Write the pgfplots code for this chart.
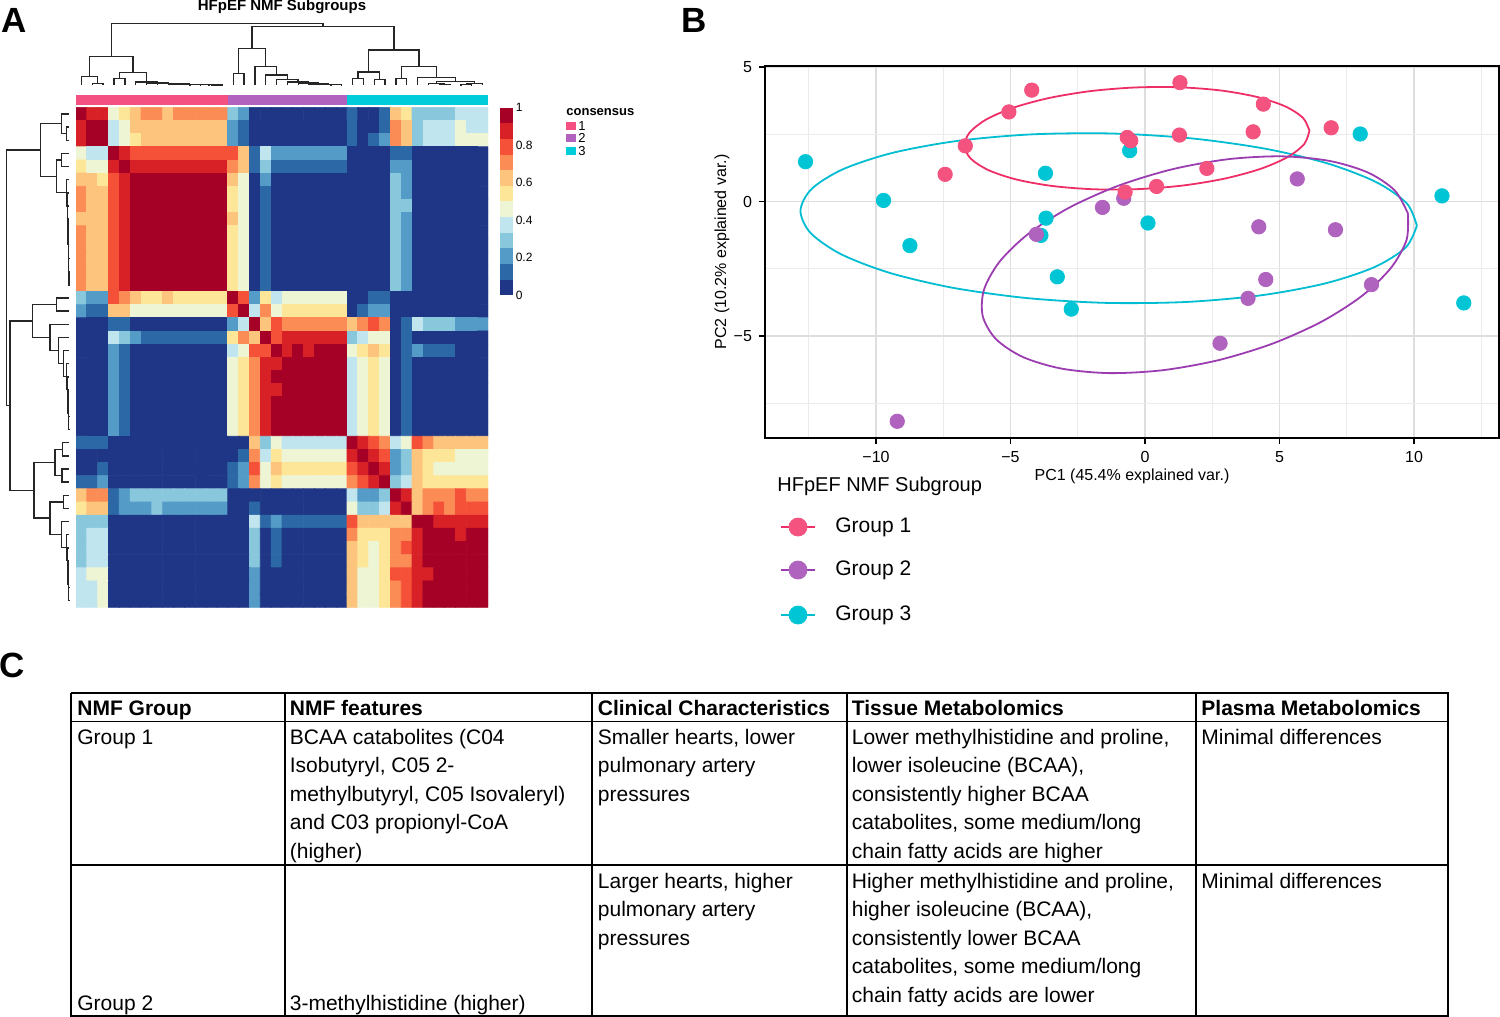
\documentclass[border=0pt]{standalone}
\usepackage{fontspec}
\setmainfont{Liberation Sans}
\usepackage{pgfplots}
\pgfplotsset{compat=1.18}
\definecolor{hm0}{RGB}{31,54,134}
\definecolor{hm1}{RGB}{44,104,166}
\definecolor{hm2}{RGB}{84,155,199}
\definecolor{hm3}{RGB}{137,199,221}
\definecolor{hm4}{RGB}{193,229,238}
\definecolor{hm5}{RGB}{238,245,213}
\definecolor{hm6}{RGB}{254,230,152}
\definecolor{hm7}{RGB}{253,196,125}
\definecolor{hm8}{RGB}{252,140,85}
\definecolor{hm9}{RGB}{245,81,56}
\definecolor{hm10}{RGB}{215,33,38}
\definecolor{hm11}{RGB}{165,0,38}
\definecolor{annA}{RGB}{245,80,130}
\definecolor{annB}{RGB}{176,98,190}
\definecolor{annC}{RGB}{0,204,218}
\definecolor{gApt}{RGB}{244,82,127}
\definecolor{gBpt}{RGB}{176,99,190}
\definecolor{gCpt}{RGB}{0,197,213}
\definecolor{gAln}{RGB}{238,47,103}
\definecolor{gBln}{RGB}{155,61,176}
\definecolor{gCln}{RGB}{0,189,210}
\newcommand{\tabfont}{\fontsize{10.5}{12}\selectfont}
\newcommand{\tl}[3]{\node[anchor=base west, inner sep=0pt, font=\tabfont] at (axis cs:#1,#2) {#3};}
\newcommand{\thd}[3]{\node[anchor=base west, inner sep=0pt, font=\tabfont\bfseries] at (axis cs:#1,#2) {#3};}
\begin{document}
\begin{tikzpicture}
\useasboundingbox (0pt,0pt) rectangle (750pt,-508.5pt);
% ---------------- pixel frame axis (dendrograms, annotations, table)
\begin{axis}[at={(0pt,0pt)}, anchor=north west, width=750pt, height=508.5pt, scale only axis,
  xmin=0, xmax=1500, ymin=0, ymax=1017, y dir=reverse, hide axis, clip=false]
% annotation bar
\addplot[fill=annA, draw=none, mark=none] coordinates {(76,95)(227.8,95)(227.8,104.5)(76,104.5)};
\addplot[fill=annB, draw=none, mark=none] coordinates {(227.8,95)(347,95)(347,104.5)(227.8,104.5)};
\addplot[fill=annC, draw=none, mark=none] coordinates {(347,95)(488,95)(488,104.5)(347,104.5)};
% column dendrogram
\addplot[black!85, line width=0.7pt, mark=none, unbounded coords=jump] coordinates {
(92.3,85)(92.3,83.3)(103.1,83.3)(103.1,85) (nan,nan)
(81.4,85)(81.4,76.7)(97.7,76.7)(97.7,83.3) (nan,nan)
(113.9,85)(113.9,78.3)(124.8,78.3)(124.8,85) (nan,nan)
(211.5,85)(211.5,84.8)(222.4,84.8)(222.4,85) (nan,nan)
(200.7,85)(200.7,84.7)(216.95,84.7)(216.95,84.8) (nan,nan)
(189.8,85)(189.8,84.6)(208.8,84.6)(208.8,84.7) (nan,nan)
(179.0,85)(179.0,84.4)(199.3,84.4)(199.3,84.6) (nan,nan)
(168.2,85)(168.2,84.0)(189.2,84.0)(189.2,84.4) (nan,nan)
(157.3,85)(157.3,83.6)(178.7,83.6)(178.7,84.0) (nan,nan)
(146.5,85)(146.5,83.0)(168.0,83.0)(168.0,83.6) (nan,nan)
(135.6,85)(135.6,82.0)(157.25,82.0)(157.25,83.0) (nan,nan)
(119.35,78.3)(119.35,72.3)(146.4,72.3)(146.4,82.0) (nan,nan)
(89.55,76.7)(89.55,56.7)(132.9,56.7)(132.9,72.3) (nan,nan)
(233.2,85)(233.2,73.3)(244.0,73.3)(244.0,85) (nan,nan)
(330.8,85)(330.8,84.6)(341.6,84.6)(341.6,85) (nan,nan)
(319.9,85)(319.9,84.3)(336.2,84.3)(336.2,84.6) (nan,nan)
(309.1,85)(309.1,83.8)(328.05,83.8)(328.05,84.3) (nan,nan)
(298.3,85)(298.3,83.0)(318.6,83.0)(318.6,83.8) (nan,nan)
(287.4,85)(287.4,82.0)(308.4,82.0)(308.4,83.0) (nan,nan)
(276.6,85)(276.6,79.3)(297.9,79.3)(297.9,82.0) (nan,nan)
(265.7,85)(265.7,75.0)(287.3,75.0)(287.3,79.3) (nan,nan)
(254.9,85)(254.9,66.7)(276.5,66.7)(276.5,75.0) (nan,nan)
(238.6,73.3)(238.6,48.3)(265.7,48.3)(265.7,66.7) (nan,nan)
(352.5,85)(352.5,78.7)(363.3,78.7)(363.3,85) (nan,nan)
(374.2,85)(374.2,79.3)(385.0,79.3)(385.0,85) (nan,nan)
(357.9,78.7)(357.9,72.0)(379.6,72.0)(379.6,79.3) (nan,nan)
(395.8,85)(395.8,78.3)(406.7,78.3)(406.7,85) (nan,nan)
(439.2,85)(439.2,84.3)(450.1,84.3)(450.1,85) (nan,nan)
(428.4,85)(428.4,83.3)(444.65,83.3)(444.65,84.3) (nan,nan)
(460.9,85)(460.9,84.5)(471.7,84.5)(471.7,85) (nan,nan)
(466.3,84.5)(466.3,83.7)(482.6,83.7)(482.6,85) (nan,nan)
(436.5,83.3)(436.5,81.5)(474.5,81.5)(474.5,83.7) (nan,nan)
(417.5,85)(417.5,77.7)(455.5,77.7)(455.5,81.5) (nan,nan)
(401.25,78.3)(401.25,66.7)(436.5,66.7)(436.5,77.7) (nan,nan)
(368.75,72.0)(368.75,50.0)(418.9,50.0)(418.9,66.7) (nan,nan)
(252.15,48.3)(252.15,26.7)(393.8,26.7)(393.8,50.0) (nan,nan)
(111.2,56.7)(111.2,23.3)(323.0,23.3)(323.0,26.7)
};
% row dendrogram
\addplot[black!85, line width=0.7pt, mark=none, unbounded coords=jump] coordinates {
(69,127.0)(66.7,127.0)(66.7,140.2)(69,140.2) (nan,nan)
(69,113.9)(61.7,113.9)(61.7,133.6)(66.7,133.6) (nan,nan)
(69,153.3)(61.7,153.3)(61.7,166.5)(69,166.5) (nan,nan)
(69,271.7)(68.8,271.7)(68.8,284.8)(69,284.8) (nan,nan)
(69,258.5)(68.6,258.5)(68.6,278.25)(68.8,278.25) (nan,nan)
(69,245.4)(68.4,245.4)(68.4,268.4)(68.6,268.4) (nan,nan)
(69,232.2)(68.2,232.2)(68.2,256.9)(68.4,256.9) (nan,nan)
(69,219.1)(68.0,219.1)(68.0,244.55)(68.2,244.55) (nan,nan)
(69,205.9)(67.7,205.9)(67.7,231.8)(68.0,231.8) (nan,nan)
(69,192.8)(67.3,192.8)(67.3,218.85)(67.7,218.85) (nan,nan)
(69,179.6)(66.7,179.6)(66.7,205.8)(67.3,205.8) (nan,nan)
(61.7,159.9)(56.7,159.9)(56.7,192.7)(66.7,192.7) (nan,nan)
(61.7,123.75)(40.7,123.75)(40.7,176.3)(56.7,176.3) (nan,nan)
(69,298.0)(56.7,298.0)(56.7,311.1)(69,311.1) (nan,nan)
(69,416.3)(68.6,416.3)(68.6,429.5)(69,429.5) (nan,nan)
(69,403.2)(68.3,403.2)(68.3,422.9)(68.6,422.9) (nan,nan)
(69,390.0)(68.0,390.0)(68.0,413.05)(68.3,413.05) (nan,nan)
(69,376.9)(67.5,376.9)(67.5,401.5)(68.0,401.5) (nan,nan)
(69,363.7)(66.7,363.7)(66.7,389.2)(67.5,389.2) (nan,nan)
(69,350.6)(63.3,350.6)(63.3,376.45)(66.7,376.45) (nan,nan)
(69,337.4)(58.3,337.4)(58.3,363.5)(63.3,363.5) (nan,nan)
(69,324.3)(50.0,324.3)(50.0,350.45)(58.3,350.45) (nan,nan)
(56.7,304.55)(32.3,304.55)(32.3,337.4)(50.0,337.4) (nan,nan)
(69,442.6)(62.5,442.6)(62.5,455.8)(69,455.8) (nan,nan)
(69,468.9)(62.0,468.9)(62.0,482.1)(69,482.1) (nan,nan)
(62.5,449.2)(55.0,449.2)(55.0,475.5)(62.0,475.5) (nan,nan)
(69,495.2)(63.3,495.2)(63.3,508.4)(69,508.4) (nan,nan)
(69,587.3)(68.6,587.3)(68.6,600.4)(69,600.4) (nan,nan)
(69,574.1)(68.2,574.1)(68.2,593.85)(68.6,593.85) (nan,nan)
(69,561.0)(67.8,561.0)(67.8,583.98)(68.2,583.98) (nan,nan)
(69,547.8)(67.3,547.8)(67.3,572.5)(67.8,572.5) (nan,nan)
(69,534.7)(66.5,534.7)(66.5,560.15)(67.3,560.15) (nan,nan)
(69,521.5)(61.7,521.5)(61.7,547.4)(66.5,547.4) (nan,nan)
(63.3,501.8)(50.0,501.8)(50.0,534.45)(61.7,534.45) (nan,nan)
(55.0,462.35)(34.0,462.35)(34.0,518.1)(50.0,518.1) (nan,nan)
(32.3,321.0)(10.0,321.0)(10.0,490.2)(34.0,490.2) (nan,nan)
(40.7,150.0)(6.7,150.0)(6.7,405.6)(10.0,405.6)
};
% consensus legend
\addplot[fill=annA, draw=none, mark=none] coordinates {(566,122)(576,122)(576,130.3)(566,130.3)};
\addplot[fill=annB, draw=none, mark=none] coordinates {(566,134.3)(576,134.3)(576,142.3)(566,142.3)};
\addplot[fill=annC, draw=none, mark=none] coordinates {(566,146.7)(576,146.7)(576,155)(566,155)};
\node[anchor=west, inner sep=0pt, font=\fontsize{6.5}{7}\selectfont\bfseries] at (axis cs:566,112.5) {consensus};
\node[anchor=west, inner sep=0pt, font=\fontsize{6.5}{7}\selectfont] at (axis cs:578,126.3) {1};
\node[anchor=west, inner sep=0pt, font=\fontsize{6.5}{7}\selectfont] at (axis cs:578,138.3) {2};
\node[anchor=west, inner sep=0pt, font=\fontsize{6.5}{7}\selectfont] at (axis cs:578,151) {3};
% titles and panel letters
\node[font=\fontsize{7.5}{8}\selectfont\bfseries] at (axis cs:282,6.5) {HFpEF NMF Subgroups};
\node[font=\fontsize{17.5}{20}\selectfont\bfseries] at (axis cs:14,20.5) {A};
\node[font=\fontsize{17.5}{20}\selectfont\bfseries] at (axis cs:694,20.5) {B};
\node[font=\fontsize{17.5}{20}\selectfont\bfseries] at (axis cs:12,665.5) {C};
% scatter axis labels
\node[font=\fontsize{8}{9}\selectfont] at (axis cs:1132,476) {PC1 (45.4\% explained var.)};
\node[font=\fontsize{8}{9}\selectfont, rotate=90] at (axis cs:722,252) {PC2 (10.2\% explained var.)};
% scatter legend
\node[anchor=west, inner sep=0pt, font=\fontsize{10}{12}\selectfont] at (axis cs:777,486) {HFpEF NMF Subgroup};
\addplot[gAln, line width=1pt, mark=none] coordinates {(781,527)(815,527)};
\addplot[gBln, line width=1pt, mark=none] coordinates {(781,570)(815,570)};
\addplot[gCln, line width=1pt, mark=none] coordinates {(781,615)(815,615)};
\addplot[only marks, mark=*, mark size=4.5pt, mark options={fill=gApt, draw=gApt}] coordinates {(798,527)};
\addplot[only marks, mark=*, mark size=4.5pt, mark options={fill=gBpt, draw=gBpt}] coordinates {(798,570)};
\addplot[only marks, mark=*, mark size=4.5pt, mark options={fill=gCpt, draw=gCpt}] coordinates {(798,615)};
\node[anchor=west, inner sep=0pt, font=\fontsize{10.5}{12}\selectfont] at (axis cs:835,527) {Group 1};
\node[anchor=west, inner sep=0pt, font=\fontsize{10.5}{12}\selectfont] at (axis cs:835,570) {Group 2};
\node[anchor=west, inner sep=0pt, font=\fontsize{10.5}{12}\selectfont] at (axis cs:835,615) {Group 3};
% table
\addplot[black, line width=0.9pt, mark=none] coordinates {(71,693)(1448,693)(1448,1016)(71,1016)(71,693)};
\addplot[black, line width=0.9pt, mark=none] coordinates {(71,721.5)(1448,721.5)};
\addplot[black, line width=0.9pt, mark=none] coordinates {(71,865)(1448,865)};
\addplot[black, line width=0.9pt, mark=none] coordinates {(285,693)(285,1016)};
\addplot[black, line width=0.9pt, mark=none] coordinates {(592,693)(592,1016)};
\addplot[black, line width=0.9pt, mark=none] coordinates {(847,693)(847,1016)};
\addplot[black, line width=0.9pt, mark=none] coordinates {(1196,693)(1196,1016)};
\thd{77}{715.5}{NMF Group}
\thd{289.5}{715.5}{NMF features}
\thd{597.5}{715.5}{Clinical Characteristics}
\thd{851.5}{715.5}{Tissue Metabolomics}
\thd{1201}{715.5}{Plasma Metabolomics}
\tl{77}{744}{Group 1}
\tl{289.5}{744}{BCAA catabolites (C04}
\tl{289.5}{772.5}{Isobutyryl, C05 2-}
\tl{289.5}{801}{methylbutyryl, C05 Isovaleryl)}
\tl{289.5}{829.5}{and C03 propionyl-CoA}
\tl{289.5}{858}{(higher)}
\tl{597.5}{744}{Smaller hearts, lower}
\tl{597.5}{772.5}{pulmonary artery}
\tl{597.5}{801}{pressures}
\tl{851.5}{744}{Lower methylhistidine and proline,}
\tl{851.5}{772.5}{lower isoleucine (BCAA),}
\tl{851.5}{801}{consistently higher BCAA}
\tl{851.5}{829.5}{catabolites, some medium/long}
\tl{851.5}{858}{chain fatty acids are higher}
\tl{1201}{744}{Minimal differences}
\tl{77}{1010}{Group 2}
\tl{289.5}{1010}{3-methylhistidine (higher)}
\tl{597.5}{888}{Larger hearts, higher}
\tl{597.5}{916.5}{pulmonary artery}
\tl{597.5}{945}{pressures}
\tl{851.5}{888}{Higher methylhistidine and proline,}
\tl{851.5}{916.5}{higher isoleucine (BCAA),}
\tl{851.5}{945}{consistently lower BCAA}
\tl{851.5}{973.5}{catabolites, some medium/long}
\tl{851.5}{1002}{chain fatty acids are lower}
\tl{1201}{888}{Minimal differences}
\end{axis}
% ---------------- heatmap
\begin{axis}[at={(38pt,-53.65pt)}, anchor=north west, width=206pt, height=250pt, scale only axis,
  xmin=-0.5, xmax=37.5, ymin=-0.5, ymax=37.5, y dir=reverse, hide axis,
  colormap={hm}{rgb255=(31,54,134) rgb255=(44,104,166) rgb255=(84,155,199) rgb255=(137,199,221)
    rgb255=(193,229,238) rgb255=(238,245,213) rgb255=(254,230,152) rgb255=(253,196,125)
    rgb255=(252,140,85) rgb255=(245,81,56) rgb255=(215,33,38) rgb255=(165,0,38)},
  point meta min=0, point meta max=11]
\addplot[matrix plot*, mesh/cols=38, point meta=explicit] table[row sep=\\, header=false,
  x expr={\coordindex-38*floor((\coordindex+0.5)/38)}, y expr={floor((\coordindex+0.5)/38)}, meta index=0] {
11\\10\\10\\5\\6\\7\\8\\8\\7\\8\\8\\8\\8\\8\\3\\2\\0\\0\\0\\0\\0\\0\\0\\0\\0\\1\\0\\0\\1\\7\\6\\3\\3\\3\\3\\4\\4\\4\\
10\\11\\11\\4\\5\\7\\7\\7\\7\\7\\7\\7\\7\\7\\2\\1\\0\\0\\0\\0\\0\\0\\0\\0\\0\\1\\0\\0\\1\\8\\7\\3\\4\\4\\4\\5\\4\\4\\
10\\11\\11\\4\\5\\6\\7\\7\\7\\7\\7\\7\\7\\7\\2\\1\\0\\0\\0\\0\\0\\0\\0\\0\\0\\1\\0\\1\\2\\8\\7\\3\\4\\4\\4\\5\\5\\5\\
5\\4\\4\\11\\10\\9\\9\\9\\9\\9\\9\\9\\9\\9\\9\\7\\1\\4\\2\\2\\2\\2\\2\\2\\2\\0\\0\\0\\0\\1\\1\\0\\0\\0\\0\\0\\0\\0\\
6\\5\\5\\10\\11\\10\\10\\10\\10\\10\\10\\10\\10\\10\\8\\7\\1\\3\\1\\1\\1\\1\\1\\1\\1\\0\\0\\0\\0\\2\\2\\0\\0\\0\\0\\0\\0\\0\\
7\\7\\6\\9\\10\\11\\11\\11\\11\\11\\11\\11\\11\\11\\7\\5\\0\\2\\0\\0\\0\\0\\0\\0\\0\\0\\0\\0\\0\\3\\2\\0\\0\\0\\0\\0\\0\\0\\
8\\7\\7\\9\\10\\11\\11\\11\\11\\11\\11\\11\\11\\11\\6\\5\\0\\1\\0\\0\\0\\0\\0\\0\\0\\0\\0\\0\\0\\3\\2\\0\\0\\0\\0\\0\\0\\0\\
8\\7\\7\\9\\10\\11\\11\\11\\11\\11\\11\\11\\11\\11\\6\\5\\0\\1\\0\\0\\0\\0\\0\\0\\0\\0\\0\\0\\0\\3\\3\\0\\0\\0\\0\\0\\0\\0\\
7\\7\\7\\9\\10\\11\\11\\11\\11\\11\\11\\11\\11\\11\\7\\5\\0\\1\\0\\0\\0\\0\\0\\0\\0\\0\\0\\0\\0\\3\\2\\0\\0\\0\\0\\0\\0\\0\\
8\\7\\7\\9\\10\\11\\11\\11\\11\\11\\11\\11\\11\\11\\6\\5\\0\\1\\0\\0\\0\\0\\0\\0\\0\\0\\0\\0\\0\\3\\2\\0\\0\\0\\0\\0\\0\\0\\
8\\7\\7\\9\\10\\11\\11\\11\\11\\11\\11\\11\\11\\11\\6\\5\\0\\1\\0\\0\\0\\0\\0\\0\\0\\0\\0\\0\\0\\3\\2\\0\\0\\0\\0\\0\\0\\0\\
8\\7\\7\\9\\10\\11\\11\\11\\11\\11\\11\\11\\11\\11\\6\\5\\0\\1\\0\\0\\0\\0\\0\\0\\0\\0\\0\\0\\0\\3\\2\\0\\0\\0\\0\\0\\0\\0\\
8\\7\\7\\9\\10\\11\\11\\11\\11\\11\\11\\11\\11\\11\\6\\5\\0\\1\\0\\0\\0\\0\\0\\0\\0\\0\\0\\0\\0\\3\\2\\0\\0\\0\\0\\0\\0\\0\\
8\\7\\7\\9\\10\\11\\11\\11\\11\\11\\11\\11\\11\\11\\6\\5\\0\\1\\0\\0\\0\\0\\0\\0\\0\\0\\0\\0\\0\\3\\2\\0\\0\\0\\0\\0\\0\\0\\
3\\2\\2\\9\\8\\7\\6\\6\\7\\6\\6\\6\\6\\6\\11\\9\\2\\6\\4\\5\\5\\5\\5\\5\\5\\0\\0\\1\\1\\0\\0\\0\\0\\0\\0\\0\\0\\0\\
2\\1\\1\\7\\7\\5\\5\\5\\5\\5\\5\\5\\5\\5\\9\\11\\4\\8\\5\\6\\6\\6\\6\\6\\6\\0\\1\\2\\2\\0\\0\\0\\0\\0\\0\\0\\0\\0\\
0\\0\\0\\1\\1\\0\\0\\0\\0\\0\\0\\0\\0\\0\\2\\4\\11\\7\\9\\8\\8\\8\\8\\8\\8\\7\\8\\9\\8\\0\\1\\4\\3\\3\\3\\2\\2\\2\\
0\\0\\0\\4\\3\\2\\1\\1\\1\\1\\1\\1\\1\\1\\6\\8\\7\\11\\9\\10\\10\\10\\10\\10\\10\\3\\4\\5\\5\\0\\1\\0\\0\\0\\0\\0\\0\\0\\
0\\0\\0\\2\\1\\0\\0\\0\\0\\0\\0\\0\\0\\0\\4\\5\\9\\9\\11\\10\\11\\10\\11\\11\\11\\5\\6\\7\\6\\0\\1\\2\\1\\1\\1\\0\\0\\0\\
0\\0\\0\\2\\1\\0\\0\\0\\0\\0\\0\\0\\0\\0\\5\\6\\8\\10\\10\\11\\11\\11\\11\\11\\11\\4\\5\\6\\5\\0\\1\\0\\0\\0\\0\\0\\0\\0\\
0\\0\\0\\2\\1\\0\\0\\0\\0\\0\\0\\0\\0\\0\\5\\6\\8\\10\\11\\11\\11\\11\\11\\11\\11\\4\\5\\6\\5\\0\\1\\0\\0\\0\\0\\0\\0\\0\\
0\\0\\0\\2\\1\\0\\0\\0\\0\\0\\0\\0\\0\\0\\5\\6\\8\\10\\10\\11\\11\\11\\11\\11\\11\\4\\5\\6\\5\\0\\1\\0\\0\\0\\0\\0\\0\\0\\
0\\0\\0\\2\\1\\0\\0\\0\\0\\0\\0\\0\\0\\0\\5\\6\\8\\10\\11\\11\\11\\11\\11\\11\\11\\4\\5\\6\\5\\0\\1\\0\\0\\0\\0\\0\\0\\0\\
0\\0\\0\\2\\1\\0\\0\\0\\0\\0\\0\\0\\0\\0\\5\\6\\8\\10\\11\\11\\11\\11\\11\\11\\11\\4\\5\\6\\5\\0\\1\\0\\0\\0\\0\\0\\0\\0\\
0\\0\\0\\2\\1\\0\\0\\0\\0\\0\\0\\0\\0\\0\\5\\6\\8\\10\\11\\11\\11\\11\\11\\11\\11\\4\\5\\6\\5\\0\\1\\0\\0\\0\\0\\0\\0\\0\\
1\\1\\1\\0\\0\\0\\0\\0\\0\\0\\0\\0\\0\\0\\0\\0\\7\\3\\5\\4\\4\\4\\4\\4\\4\\11\\10\\9\\8\\4\\5\\9\\8\\7\\7\\7\\7\\7\\
0\\0\\0\\0\\0\\0\\0\\0\\0\\0\\0\\0\\0\\0\\0\\1\\8\\4\\6\\5\\5\\5\\5\\5\\5\\10\\11\\10\\9\\2\\3\\7\\6\\6\\6\\5\\5\\5\\
0\\0\\1\\0\\0\\0\\0\\0\\0\\0\\0\\0\\0\\0\\1\\2\\9\\5\\7\\6\\6\\6\\6\\6\\6\\9\\10\\11\\10\\2\\3\\7\\6\\5\\5\\5\\5\\5\\
1\\1\\2\\0\\0\\0\\0\\0\\0\\0\\0\\0\\0\\0\\1\\2\\8\\5\\6\\5\\5\\5\\5\\5\\5\\8\\9\\10\\11\\3\\4\\7\\6\\6\\6\\6\\6\\6\\
7\\8\\8\\1\\2\\3\\3\\3\\3\\3\\3\\3\\3\\3\\0\\0\\0\\0\\0\\0\\0\\0\\0\\0\\0\\4\\2\\2\\3\\11\\10\\7\\8\\8\\8\\9\\8\\8\\
6\\7\\7\\1\\2\\2\\2\\3\\2\\2\\2\\2\\2\\2\\0\\0\\1\\0\\0\\0\\0\\0\\0\\0\\0\\5\\3\\3\\4\\10\\11\\7\\8\\9\\8\\9\\9\\9\\
3\\3\\3\\0\\0\\0\\0\\0\\0\\0\\0\\0\\0\\0\\0\\0\\4\\1\\2\\1\\1\\1\\1\\1\\1\\9\\7\\7\\7\\7\\7\\11\\11\\10\\10\\10\\10\\10\\
3\\4\\4\\0\\0\\0\\0\\0\\0\\0\\0\\0\\0\\0\\0\\0\\3\\0\\1\\0\\0\\0\\0\\0\\0\\8\\6\\6\\6\\8\\8\\10\\11\\11\\11\\10\\11\\11\\
3\\4\\4\\0\\0\\0\\0\\0\\0\\0\\0\\0\\0\\0\\0\\0\\3\\0\\1\\0\\0\\0\\0\\0\\0\\7\\6\\5\\6\\8\\9\\10\\11\\11\\11\\11\\11\\11\\
3\\4\\4\\0\\0\\0\\0\\0\\0\\0\\0\\0\\0\\0\\0\\0\\3\\0\\1\\0\\0\\0\\0\\0\\0\\7\\6\\5\\6\\8\\8\\10\\11\\11\\11\\11\\11\\11\\
4\\5\\5\\0\\0\\0\\0\\0\\0\\0\\0\\0\\0\\0\\0\\0\\2\\0\\0\\0\\0\\0\\0\\0\\0\\7\\5\\5\\6\\9\\9\\10\\10\\11\\11\\11\\11\\11\\
4\\4\\5\\0\\0\\0\\0\\0\\0\\0\\0\\0\\0\\0\\0\\0\\2\\0\\0\\0\\0\\0\\0\\0\\0\\7\\5\\5\\6\\8\\9\\10\\11\\11\\11\\11\\11\\11\\
4\\4\\5\\0\\0\\0\\0\\0\\0\\0\\0\\0\\0\\0\\0\\0\\2\\0\\0\\0\\0\\0\\0\\0\\0\\7\\5\\5\\6\\8\\9\\10\\11\\11\\11\\11\\11\\11\\
};
\end{axis}
% ---------------- colour bar
\begin{axis}[at={(250pt,-53.85pt)}, anchor=north west, width=6.5pt, height=93.75pt, scale only axis,
  xmin=0, xmax=1, ymin=0, ymax=1, axis line style={draw=none}, xtick=\empty,
  ytick={0,0.2,0.4,0.6,0.8,1}, yticklabels={0,0.2,0.4,0.6,0.8,1}, yticklabel pos=right,
  major tick length=0pt, tick style={draw=none},
  yticklabel style={font=\fontsize{6}{7}\selectfont, inner xsep=1.2pt}]
\addplot[fill=hm0, draw=none, mark=none] coordinates {(0,0)(1,0)(1,0.08333)(0,0.08333)};
\addplot[fill=hm1, draw=none, mark=none] coordinates {(0,0.08333)(1,0.08333)(1,0.16667)(0,0.16667)};
\addplot[fill=hm2, draw=none, mark=none] coordinates {(0,0.16667)(1,0.16667)(1,0.25)(0,0.25)};
\addplot[fill=hm3, draw=none, mark=none] coordinates {(0,0.25)(1,0.25)(1,0.33333)(0,0.33333)};
\addplot[fill=hm4, draw=none, mark=none] coordinates {(0,0.33333)(1,0.33333)(1,0.41667)(0,0.41667)};
\addplot[fill=hm5, draw=none, mark=none] coordinates {(0,0.41667)(1,0.41667)(1,0.5)(0,0.5)};
\addplot[fill=hm6, draw=none, mark=none] coordinates {(0,0.5)(1,0.5)(1,0.58333)(0,0.58333)};
\addplot[fill=hm7, draw=none, mark=none] coordinates {(0,0.58333)(1,0.58333)(1,0.66667)(0,0.66667)};
\addplot[fill=hm8, draw=none, mark=none] coordinates {(0,0.66667)(1,0.66667)(1,0.75)(0,0.75)};
\addplot[fill=hm9, draw=none, mark=none] coordinates {(0,0.75)(1,0.75)(1,0.83333)(0,0.83333)};
\addplot[fill=hm10, draw=none, mark=none] coordinates {(0,0.83333)(1,0.83333)(1,0.91667)(0,0.91667)};
\addplot[fill=hm11, draw=none, mark=none] coordinates {(0,0.91667)(1,0.91667)(1,1)(0,1)};
\end{axis}
% ---------------- PCA scatter
\begin{axis}[at={(382.5pt,-33pt)}, anchor=north west, width=367pt, height=186pt, scale only axis,
  xmin=-14.126, xmax=13.16, ymin=-8.792, ymax=5.037,
  xtick={-10,-5,0,5,10}, xticklabels={−10,−5,0,5,10},
  ytick={-5,0,5}, yticklabels={−5,0,5},
  minor xtick={-12.5,-7.5,-2.5,2.5,7.5,12.5}, minor ytick={-7.5,-2.5,2.5},
  grid=both, major grid style={draw=black!13, line width=0.7pt}, minor grid style={draw=black!8, line width=0.45pt},
  axis line style={black, line width=0.8pt}, tick align=outside, tick pos=left,
  major tick length=3pt, minor tick length=0pt, tick style={black, line width=0.6pt},
  tick label style={font=\fontsize{8}{9}\selectfont}]
\addplot[gCln, line width=0.9pt, smooth, mark=none] coordinates {(10.107,-0.90)(9.736,-0.075)(8.610,0.713)(6.805,1.409)(4.446,1.967)(1.689,2.350)(-1.273,2.529)(-4.241,2.494)(-7.012,2.247)(-9.397,1.805)(-11.234,1.197)(-12.396,0.465)(-12.807,-0.34)(-12.436,-1.165)(-11.310,-1.953)(-9.505,-2.649)(-7.146,-3.207)(-4.389,-3.590)(-1.427,-3.769)(1.541,-3.734)(4.312,-3.487)(6.697,-3.045)(8.534,-2.437)(9.696,-1.705)(10.107,-0.90)};
\addplot[gAln, line width=0.9pt, smooth, mark=none] coordinates {(6.114,2.630)(5.874,3.109)(5.214,3.536)(4.177,3.883)(2.836,4.125)(1.280,4.246)(-0.382,4.238)(-2.040,4.102)(-3.578,3.845)(-4.893,3.487)(-5.896,3.052)(-6.516,2.569)(-6.714,2.070)(-6.474,1.591)(-5.814,1.164)(-4.777,0.817)(-3.436,0.575)(-1.880,0.454)(-0.218,0.462)(1.440,0.598)(2.978,0.855)(4.293,1.213)(5.296,1.648)(5.916,2.131)(6.114,2.630)};
\addplot[gBln, line width=0.9pt, smooth, mark=none] coordinates {(9.772,-0.439)(9.281,0.414)(8.284,1.079)(6.851,1.510)(5.078,1.679)(3.086,1.572)(1.012,1.198)(-1.004,0.582)(-2.824,-0.233)(-4.325,-1.192)(-5.402,-2.231)(-5.985,-3.278)(-6.032,-4.261)(-5.541,-5.114)(-4.544,-5.779)(-3.111,-6.210)(-1.338,-6.379)(0.654,-6.272)(2.728,-5.898)(4.744,-5.282)(6.564,-4.467)(8.065,-3.508)(9.142,-2.469)(9.725,-1.422)(9.772,-0.439)};
\addplot[only marks, mark=*, mark size=3.6pt, mark options={fill=gCpt, draw=gCpt}] coordinates {(-12.62,1.48)(-9.72,0.04)(-8.74,-1.64)(-3.70,1.05)(-0.57,1.89)(-3.68,-0.62)(-3.87,-1.26)(-3.26,-2.80)(-2.74,-4.00)(0.11,-0.80)(8.0,2.51)(11.04,0.21)(11.85,-3.77)};
\addplot[only marks, mark=*, mark size=3.6pt, mark options={fill=gBpt, draw=gBpt}] coordinates {(5.66,0.84)(-1.58,-0.22)(-0.79,0.12)(-4.04,-1.22)(4.23,-0.94)(7.08,-1.05)(4.49,-2.90)(3.83,-3.60)(8.42,-3.09)(2.79,-5.27)(-9.21,-8.17)};
\addplot[only marks, mark=*, mark size=3.6pt, mark options={fill=gApt, draw=gApt}] coordinates {(-4.21,4.14)(1.30,4.42)(-5.06,3.33)(4.40,3.62)(-6.68,2.07)(-0.66,2.38)(-0.53,2.26)(1.28,2.47)(4.02,2.59)(6.92,2.74)(-7.43,1.01)(2.30,1.23)(0.43,0.56)(-0.74,0.35)};
\end{axis}
\end{tikzpicture}
\end{document}
